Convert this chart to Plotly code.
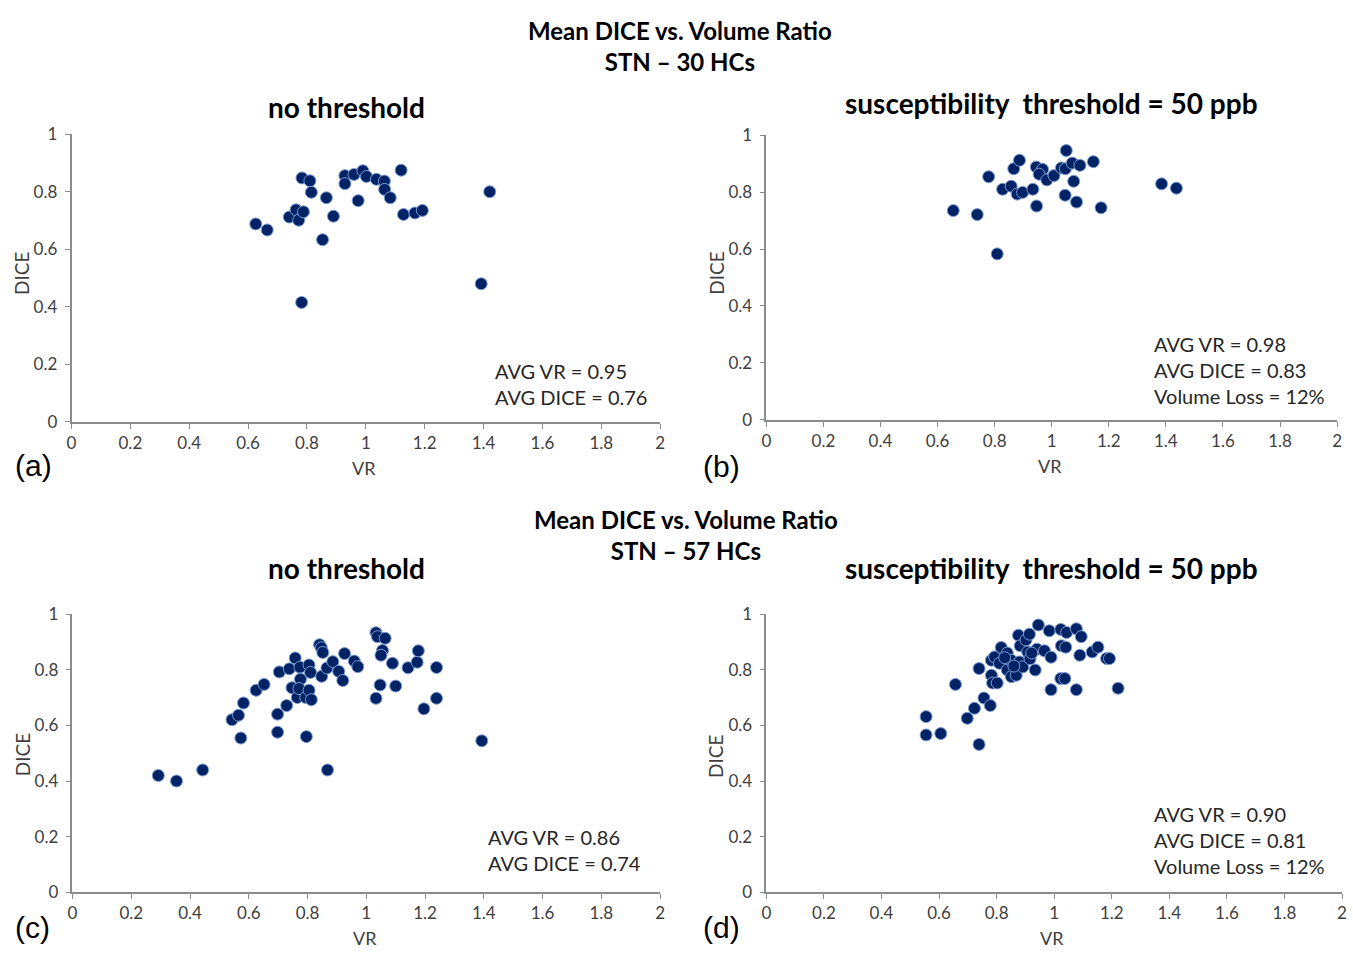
import plotly.graph_objects as go

# ---------------- data ----------------
a_vr = [0.626, 0.665, 0.740, 0.763, 0.772, 0.788, 0.783, 0.810, 0.815, 0.782,
        0.853, 0.866, 0.890, 0.929, 0.929, 0.960, 0.974, 0.990, 1.002, 1.036,
        1.063, 1.064, 1.083, 1.120, 1.128, 1.167, 1.192, 1.392, 1.421]
a_dice = [0.688, 0.667, 0.712, 0.737, 0.701, 0.730, 0.848, 0.838, 0.798, 0.415,
          0.633, 0.779, 0.715, 0.856, 0.828, 0.860, 0.769, 0.873, 0.853, 0.843,
          0.837, 0.808, 0.779, 0.875, 0.721, 0.726, 0.735, 0.480, 0.800]

b_vr = [0.655, 0.739, 0.779, 0.809, 0.828, 0.858, 0.879, 0.898, 0.934, 0.867,
        0.887, 0.946, 0.968, 0.956, 0.983, 1.008, 0.947, 1.034, 1.048, 1.051,
        1.072, 1.099, 1.077, 1.047, 1.087, 1.146, 1.173, 1.385, 1.437]
b_dice = [0.735, 0.721, 0.854, 0.583, 0.810, 0.821, 0.793, 0.799, 0.810, 0.882,
          0.912, 0.888, 0.880, 0.863, 0.843, 0.858, 0.751, 0.885, 0.882, 0.946,
          0.902, 0.894, 0.838, 0.789, 0.765, 0.907, 0.745, 0.829, 0.814]

c_vr = [0.292, 0.354, 0.443, 0.543, 0.565, 0.573, 0.582, 0.625, 0.652, 0.698,
        0.698, 0.704, 0.729, 0.738, 0.747, 0.758, 0.765, 0.774, 0.776, 0.771,
        0.794, 0.796, 0.805, 0.805, 0.810, 0.813, 0.841, 0.847, 0.852, 0.848,
        0.866, 0.868, 0.886, 0.906, 0.920, 0.926, 0.959, 0.971, 1.033, 1.038,
        1.064, 1.055, 1.050, 1.047, 1.033, 1.089, 1.100, 1.142, 1.173, 1.177,
        1.196, 1.239, 1.239, 1.393]
c_dice = [0.420, 0.400, 0.440, 0.621, 0.637, 0.555, 0.681, 0.727, 0.748, 0.641,
          0.576, 0.793, 0.672, 0.804, 0.736, 0.843, 0.701, 0.810, 0.767, 0.733,
          0.701, 0.560, 0.727, 0.818, 0.791, 0.693, 0.891, 0.880, 0.863, 0.777,
          0.807, 0.440, 0.830, 0.795, 0.762, 0.859, 0.832, 0.812, 0.934, 0.920,
          0.914, 0.870, 0.853, 0.746, 0.698, 0.824, 0.742, 0.808, 0.828, 0.869,
          0.660, 0.809, 0.698, 0.545]

d_vr = [0.555, 0.555, 0.606, 0.657, 0.739, 0.739, 0.698, 0.723, 0.756, 0.778,
        0.782, 0.786, 0.802, 0.782, 0.793, 0.810, 0.816, 0.837, 0.837, 0.851,
        0.851, 0.868, 0.880, 0.891, 0.876, 0.882, 0.902, 0.914, 0.908, 0.916,
        0.934, 0.940, 0.945, 0.966, 0.983, 0.989, 0.989, 1.023, 1.025, 1.040,
        1.043, 1.023, 1.037, 1.077, 1.094, 1.089, 1.077, 1.132, 1.152, 1.182,
        1.192, 1.222, 0.828, 0.860, 0.922]
d_dice = [0.632, 0.566, 0.571, 0.748, 0.805, 0.532, 0.626, 0.662, 0.699, 0.672,
          0.781, 0.753, 0.753, 0.835, 0.847, 0.824, 0.881, 0.861, 0.800, 0.835,
          0.776, 0.781, 0.829, 0.811, 0.925, 0.887, 0.908, 0.929, 0.865, 0.840,
          0.800, 0.875, 0.962, 0.869, 0.941, 0.846, 0.729, 0.946, 0.887, 0.882,
          0.935, 0.769, 0.769, 0.948, 0.920, 0.853, 0.729, 0.865, 0.882, 0.841,
          0.841, 0.734, 0.844, 0.814, 0.861]

x_ticks = [0, 0.2, 0.4, 0.6, 0.8, 1, 1.2, 1.4, 1.6, 1.8, 2]
x_labels = ["0", "0.2", "0.4", "0.6", "0.8", "1", "1.2", "1.4", "1.6", "1.8", "2"]
y_ticks = [0, 0.2, 0.4, 0.6, 0.8, 1]
y_labels = ["0", "0.2", "0.4", "0.6", "0.8", "1"]

titles = ["Mean DICE vs. Volume Ratio<br>STN \u2013 30 HCs",
          "Mean DICE vs. Volume Ratio<br>STN \u2013 57 HCs"]
subtitles = ["no threshold", "susceptibility  threshold = 50 ppb",
             "no threshold", "susceptibility  threshold = 50 ppb"]
stats = ["AVG VR = 0.95<br>AVG DICE = 0.76",
         "AVG VR = 0.98<br>AVG DICE = 0.83<br>Volume Loss = 12%",
         "AVG VR = 0.86<br>AVG DICE = 0.74",
         "AVG VR = 0.90<br>AVG DICE = 0.81<br>Volume Loss = 12%"]
panel_labels = ["(a)", "(b)", "(c)", "(d)"]

# ---------------- layout helpers ----------------
W, H = 1353, 954
FONT = "Lato, 'Open Sans', sans-serif"
MARK = "#002366"
AXIS = "#8c8c8c"
TXT = "#404040"

def px(x):
    return x / W

def py(y):
    return 1 - y / H

# pixel boxes: left, right, top, bottom
boxes = [(67, 660, 126, 420), (767, 1342, 127, 418),
         (68, 660, 617, 901), (767, 1347, 617, 901)]

series = [(a_vr, a_dice), (b_vr, b_dice), (c_vr, c_dice), (d_vr, d_dice)]

fig = go.Figure()
layout = dict(width=W, height=H, margin=dict(l=0, r=0, t=0, b=0),
              paper_bgcolor="white", plot_bgcolor="white", showlegend=False,
              font=dict(family=FONT, color=TXT))
annotations = []


def note(text, x, y, size, color="#000000", family=FONT, xanchor="center",
         yanchor="middle", **kw):
    annotations.append(dict(text=text, x=px(x), y=py(y), xref="paper", yref="paper",
                            showarrow=False, xanchor=xanchor, yanchor=yanchor,
                            font=dict(size=size, color=color, family=family), **kw))


for i, ((l, r, t, b), (xs, ys)) in enumerate(zip(boxes, series)):
    k = "" if i == 0 else str(i + 1)
    fig.add_trace(go.Scatter(x=xs, y=ys, mode="markers", xaxis="x" + k, yaxis="y" + k,
                             marker=dict(size=12, color=MARK,
                                         line=dict(color="#7d9bd1", width=1)),
                             cliponaxis=False))
    common = dict(showgrid=False, zeroline=False, showline=True, linecolor=AXIS,
                  linewidth=1.5, ticks="outside", ticklen=5, tickcolor=AXIS,
                  tickwidth=1.2, tickfont=dict(size=17, color="#404040", family=FONT))
    layout["xaxis" + k] = dict(common, domain=[px(l), px(r)], range=[0, 2],
                               tickvals=x_ticks, ticktext=x_labels,
                               anchor="y" + k, fixedrange=True)
    layout["yaxis" + k] = dict(common, domain=[py(b), py(t)], range=[0, 1],
                               tickvals=y_ticks, ticktext=y_labels,
                               ticklabelstandoff=4,
                               anchor="x" + k, fixedrange=True)
    # axis titles
    note("VR", l + (r - l) * 0.497, b + 47, 18, color="#404040")
    note("DICE", l - 51, [268, 268, 760, 762][i], 19, color="#404040", textangle=-90)
    # subtitle
    note("<b>" + subtitles[i] + "</b>", [344, 1054, 344, 1054][i],
         [98, 94, 570, 570][i], 28)
    # stats text
    note(stats[i], [492, 1156, 485, 1156][i], [354, 326, 830, 807][i], 20,
         color="#262626", xanchor="left", yanchor="top", align="left")
    # panel label
    note(panel_labels[i], [8, 701, 8, 701][i], [465, 466, 937, 937][i], 30,
         family="Liberation Sans, Arial", xanchor="left")

for j, (tx, ty) in enumerate([(680, 36), (686, 536)]):
    note("<b>" + titles[j] + "</b>", tx, ty, 24)

layout["annotations"] = annotations
fig.update_layout(**layout)
fig.write_html("out.html",
               post_script="document.body.style.margin='0';"
                           "document.documentElement.style.overflow='hidden';")
